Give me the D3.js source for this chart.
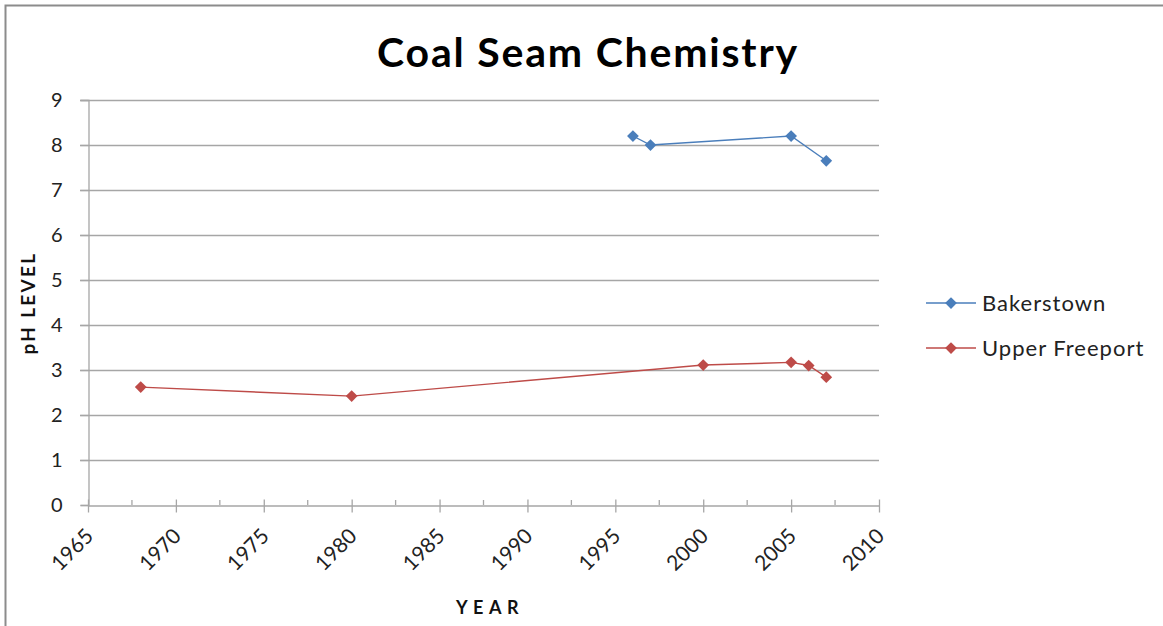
<!DOCTYPE html>
<html><head><meta charset="utf-8">
<script src="https://cdn.jsdelivr.net/npm/d3@7"></script>
<style>body{margin:0;background:#fff;} text{font-family:Lato, "Open Sans", sans-serif;}</style>
</head><body>
<svg id="c" width="1163" height="626"></svg>
<script>
const bakerYears = [1996, 1997, 2005, 2007];
const bakerPH = [8.2, 8.0, 8.2, 7.65];
const freeportYears = [1968, 1980, 2000, 2005, 2006, 2007];
const freeportPH = [2.62, 2.42, 3.11, 3.17, 3.1, 2.84];
const xTicks = [1965, 1970, 1975, 1980, 1985, 1990, 1995, 2000, 2005, 2010];
const yTicks = [0, 1, 2, 3, 4, 5, 6, 7, 8, 9];
const seriesNames = ["Bakerstown", "Upper Freeport"];
const seriesColors = ["#4a7ebb", "#be4b48"];

const svg = d3.select("#c");
const W = 1163, H = 626;
svg.append("rect").attr("x",5.5).attr("y",5.5).attr("width",W+10).attr("height",H+10)
  .attr("fill","#fff").attr("stroke","#8c8c8c").attr("stroke-width",2);

const x = d3.scaleLinear().domain([1965, 2010]).range([88, 879]);
const y = d3.scaleLinear().domain([0, 9]).range([505, 100]);

// gridlines
svg.append("g").selectAll("line").data(yTicks.filter(d=>d>0)).join("line")
  .attr("x1", 80).attr("x2", 879).attr("y1", d=>y(d)+0.5).attr("y2", d=>y(d)+0.5)
  .attr("stroke","#a6a6a6").attr("stroke-width",1.3);

// y axis
const yAxis = svg.append("g").attr("transform","translate(88.5,0)")
  .call(d3.axisLeft(y).tickValues(yTicks).tickSize(8).tickPadding(18));
yAxis.select(".domain").attr("stroke","#a6a6a6").attr("stroke-width",1.3);
yAxis.selectAll(".tick line").attr("stroke","#a6a6a6").attr("stroke-width",1.3);
yAxis.selectAll(".tick text").attr("font-size",20).attr("fill","#222").style("font-family","Lato, sans-serif");

// x axis
const minorTicks = d3.range(1967.5, 2010, 5);
svg.append("g").selectAll("line").data(minorTicks).join("line")
  .attr("x1", d=>x(d)).attr("x2", d=>x(d)).attr("y1", 505).attr("y2", 500)
  .attr("stroke","#a6a6a6").attr("stroke-width",1.3);
const xAxis = svg.append("g").attr("transform","translate(0,505.5)")
  .call(d3.axisBottom(x).tickValues(xTicks).tickFormat(d3.format("d")).tickSize(7).tickSizeOuter(0));
xAxis.select(".domain").attr("stroke","#a6a6a6").attr("stroke-width",1.3);
xAxis.selectAll(".tick line").attr("stroke","#a6a6a6").attr("stroke-width",1.3).attr("y1",-6);
xAxis.selectAll(".tick text").attr("font-size",21).attr("fill","#222")
  .attr("text-anchor","end").attr("dy",0).attr("y",0)
  .attr("transform","translate(6,32) rotate(-45)");

// series
const series = [
  {name: seriesNames[0], color: seriesColors[0], pts: bakerYears.map((d,i)=>[d, bakerPH[i]])},
  {name: seriesNames[1], color: seriesColors[1], pts: freeportYears.map((d,i)=>[d, freeportPH[i]])}
];
const line = d3.line().x(d=>x(d[0])).y(d=>y(d[1]));
const diamond = d3.symbol().type(d3.symbolDiamond2).size(88);
series.forEach(s=>{
  svg.append("path").attr("d", line(s.pts)).attr("fill","none").attr("stroke", s.color).attr("stroke-width",1.4);
  svg.append("g").selectAll("path").data(s.pts).join("path")
    .attr("d", diamond).attr("transform", d=>`translate(${x(d[0])},${y(d[1])})`)
    .attr("fill", s.color);
});

// legend
series.forEach((s,i)=>{
  const ly = 303 + i*45;
  svg.append("line").attr("x1",926).attr("x2",976).attr("y1",ly).attr("y2",ly).attr("stroke",s.color).attr("stroke-width",1.4);
  svg.append("path").attr("d", diamond).attr("transform",`translate(951,${ly})`).attr("fill",s.color);
  svg.append("text").attr("x",982).attr("y",ly+8).attr("font-size",22).attr("letter-spacing",1).attr("fill","#222").text(s.name);
});

// titles
svg.append("text").attr("x",588).attr("y",67).attr("text-anchor","middle")
  .attr("font-size",41).attr("font-weight","bold").attr("letter-spacing",1.8).attr("fill","#000").text("Coal Seam Chemistry");
svg.append("text").attr("transform","translate(35,303) rotate(-90)").attr("text-anchor","middle")
  .attr("font-size",19).attr("font-weight","bold").attr("letter-spacing",2.3).attr("fill","#111").text("pH LEVEL");
svg.append("text").attr("x",490).attr("y",614).attr("text-anchor","middle")
  .attr("font-size",18).attr("font-weight","bold").attr("letter-spacing",5.5).attr("fill","#111").text("YEAR");
</script>
</body></html>
